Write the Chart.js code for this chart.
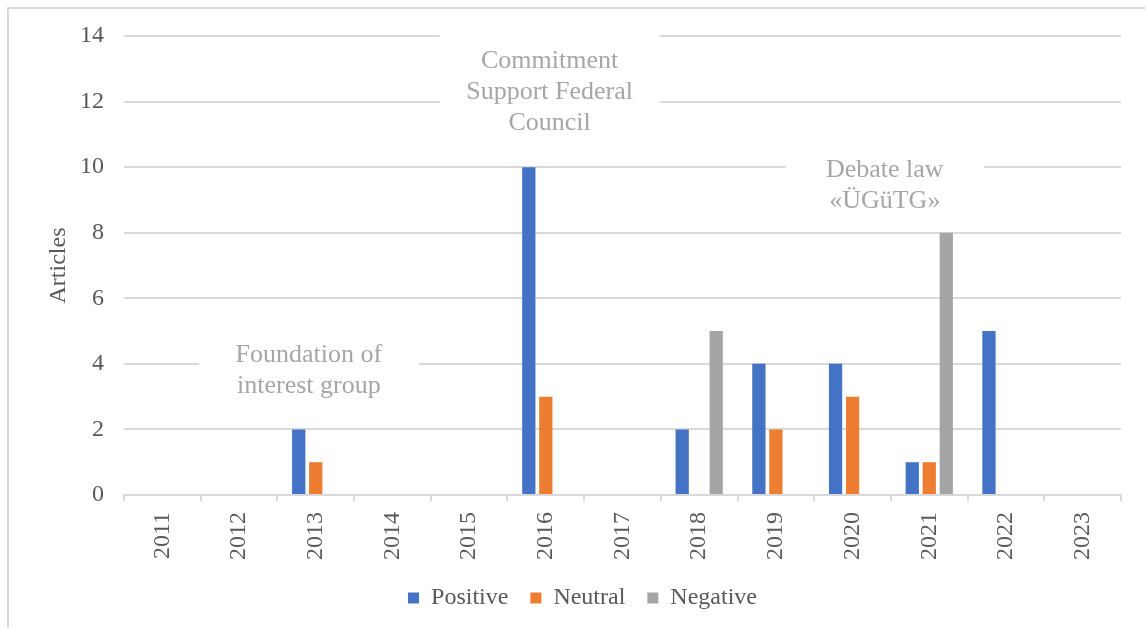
<!DOCTYPE html>
<html lang="en">
<head>
<meta charset="UTF-8">
<title>Articles per year</title>
<script src="https://cdn.jsdelivr.net/npm/chart.js"></script>
<style>
  html, body { margin: 0; padding: 0; background: #fff; overflow: hidden; }
  .frame { position: absolute; left: 7px; top: 7px; width: 1200px; height: 700px; border: 2px solid #d9d9d9; box-sizing: border-box; }
  .wrap { position: absolute; left: 0; top: 0; width: 1145px; height: 628px; }
</style>
</head>
<body>
<div class="frame"></div>
<div class="wrap"><canvas id="chart" width="1145" height="628"></canvas></div>

<script>
// years on the x axis
const years = ['2011', '2012', '2013', '2014', '2015', '2016', '2017', '2018', '2019', '2020', '2021', '2022', '2023'];

// article counts per tone
const positive = [0, 0, 2, 0, 0, 10, 0, 2, 4, 4, 1, 5, 0];
const neutral  = [0, 0, 1, 0, 0, 3, 0, 0, 2, 3, 1, 0, 0];
const negative = [0, 0, 0, 0, 0, 0, 0, 5, 0, 0, 8, 0, 0];

const yTicks = [0, 2, 4, 6, 8, 10, 12, 14];

// event notes: anchor in axis units (category index, article count)
const notes = [
  { lines: ['Foundation of', 'interest group'], at: 1.91, value: 3.8, boxWidth: 220 },
  { lines: ['Commitment', 'Support Federal', 'Council'], at: 5.05, value: 12.29, boxWidth: 220 },
  { lines: ['Debate law', '«ÜGüTG»'], at: 9.42, value: 9.44, boxWidth: 198 }
];

const serif = '"Liberation Serif", "Times New Roman", serif';
const textGrey = '#595959';

// white text boxes that sit over the gridlines
const notePlugin = {
  id: 'notes',
  beforeDatasetsDraw(chart) {
    const ctx = chart.ctx;
    const xs = chart.scales.x, ys = chart.scales.y;
    const lh = 31, padY = 12;
    ctx.save();
    ctx.font = '26px ' + serif;
    ctx.textAlign = 'center';
    ctx.textBaseline = 'middle';
    notes.forEach(n => {
      const cx = xs.getPixelForValue(n.at);
      const cy = ys.getPixelForValue(n.value);
      const h = n.lines.length * lh + padY * 2;
      ctx.fillStyle = '#ffffff';
      ctx.fillRect(cx - n.boxWidth / 2, cy - h / 2, n.boxWidth, h);
      ctx.fillStyle = '#a6a6a6';
      n.lines.forEach((t, i) => {
        ctx.fillText(t, cx, cy - (n.lines.length - 1) * lh / 2 + i * lh);
      });
    });
    ctx.restore();
  }
};

new Chart(document.getElementById('chart'), {
  type: 'bar',
  data: {
    labels: years,
    datasets: [
      { label: 'Positive', data: positive, backgroundColor: '#4472c4' },
      { label: 'Neutral', data: neutral, backgroundColor: '#ed7d31' },
      { label: 'Negative', data: negative, backgroundColor: '#a5a5a5' }
    ]
  },
  options: {
    responsive: false,
    animation: false,
    categoryPercentage: 0.665,
    barPercentage: 0.78,
    layout: { padding: { left: 44, right: 24, top: 36, bottom: 8 } },
    plugins: {
      tooltip: { enabled: false },
      legend: {
        position: 'bottom',
        labels: {
          boxWidth: 11,
          boxHeight: 11,
          padding: 22,
          color: textGrey,
          font: { family: serif, size: 24 }
        }
      }
    },
    scales: {
      x: {
        offset: true,
        grid: { display: true, drawOnChartArea: false, drawTicks: true, tickLength: 6, color: '#d9d9d9', lineWidth: 2, offset: true },
        border: { display: true, color: '#d9d9d9', width: 2 },
        ticks: {
          minRotation: 90,
          maxRotation: 90,
          padding: 11,
          color: textGrey,
          font: { family: serif, size: 24 }
        },
        afterFit(scale) { scale.height = 69; }
      },
      y: {
        min: 0,
        max: 14,
        afterBuildTicks(scale) { scale.ticks = yTicks.map(v => ({ value: v })); },
        grid: { color: '#d9d9d9', lineWidth: 2, drawTicks: false },
        border: { display: false },
        ticks: {
          padding: 20,
          color: textGrey,
          font: { family: serif, size: 24 }
        },
        title: {
          display: true,
          text: 'Articles',
          color: textGrey,
          padding: { top: 0, bottom: 0 },
          font: { family: serif, size: 24 }
        },
        afterFit(scale) { scale.width = 80; }
      }
    }
  },
  plugins: [notePlugin]
});
</script>
</body>
</html>
